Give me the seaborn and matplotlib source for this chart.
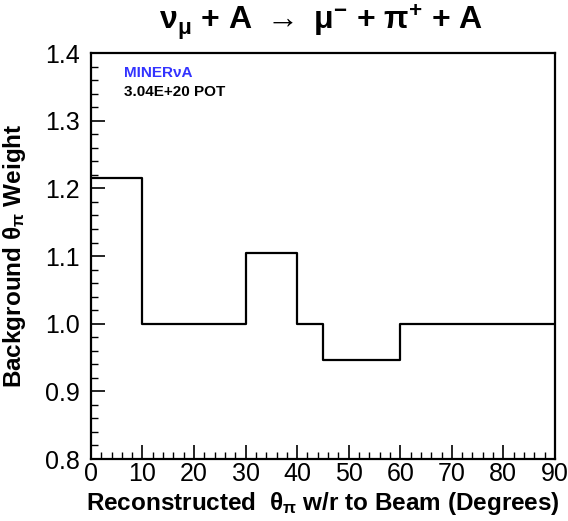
import numpy as np
import pandas as pd
import seaborn as sns
import matplotlib.pyplot as plt
from matplotlib.ticker import MultipleLocator

# bin edges (degrees) and background weight per bin
bin_edges = [0, 10, 30, 40, 45, 60, 90]
weights = [1.215, 1.0, 1.105, 1.0, 0.946, 1.0]
x_ticks = [0, 10, 20, 30, 40, 50, 60, 70, 80, 90]
y_ticks = [0.8, 0.9, 1.0, 1.1, 1.2, 1.3, 1.4]

sns.set_style("ticks")
plt.rcParams['font.family'] = ['Liberation Sans', 'DejaVu Sans']
plt.rcParams['mathtext.fontset'] = 'dejavusans'
plt.rcParams['mathtext.default'] = 'regular'
for k in ['text.color', 'axes.labelcolor', 'xtick.color', 'ytick.color',
          'xtick.labelcolor', 'ytick.labelcolor']:
    plt.rcParams[k] = 'black'

centers = [(a + b) / 2 for a, b in zip(bin_edges[:-1], bin_edges[1:])]
df = pd.DataFrame({"theta": centers, "w": weights})

fig = plt.figure(figsize=(5.68, 5.21), dpi=100)
ax = fig.add_axes([0.160, 0.119, 0.817, 0.779])

sns.histplot(data=df, x="theta", weights="w", bins=bin_edges, element="step",
             fill=False, color="black", linewidth=1.6, ax=ax)

ax.set_xlim(0, 90)
ax.set_ylim(0.8, 1.4)
ax.set_xticks(x_ticks)
ax.set_yticks(y_ticks)
ax.set_yticklabels([f"{v:.1f}" for v in y_ticks])
ax.xaxis.set_minor_locator(MultipleLocator(2))
ax.yaxis.set_minor_locator(MultipleLocator(0.02))
ax.tick_params(which='both', direction='in', top=False, right=False,
               labelsize=18, color='black')
ax.tick_params(which='major', length=10, width=1.2)
ax.tick_params(which='minor', length=5, width=1.0)
ax.tick_params(axis='y', pad=8)
ax.tick_params(axis='x', pad=2)
for s in ax.spines.values():
    s.set_linewidth(1.6)
    s.set_color('black')

ax.set_xlabel(r"Reconstructed  $\theta_{\pi}$ w/r to Beam (Degrees)",
              fontsize=17.5, fontweight='bold', labelpad=3)
ax.set_ylabel(r"Background $\theta_{\pi}$ Weight", fontsize=17.5,
              fontweight='bold', labelpad=12)

fig.text(0.566, 0.958,
         r"$\nu_{\mu}$ + A $\rightarrow$ $\mu^{-}$ + $\pi^{+}$ + A",
         ha='center', va='center', fontsize=23, fontweight='bold')

ax.text(0.071, 0.951, "MINERνA", transform=ax.transAxes, color='#3333ff',
        fontsize=11, fontweight='bold', va='center', ha='left')
ax.text(0.071, 0.904, "3.04E+20 POT", transform=ax.transAxes, color='black',
        fontsize=11, fontweight='bold', va='center', ha='left')

fig.savefig("out.png", dpi=100)
